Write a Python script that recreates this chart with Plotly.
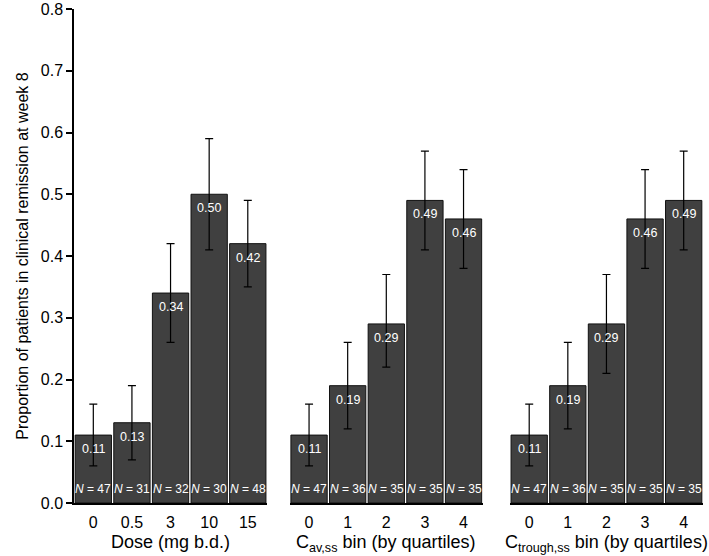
import plotly.graph_objects as go

dose_labels = ["0", "0.5", "3", "10", "15"]
dose_vals = [0.11, 0.13, 0.34, 0.50, 0.42]
dose_lo = [0.06, 0.07, 0.26, 0.41, 0.35]
dose_hi = [0.16, 0.19, 0.42, 0.59, 0.49]
dose_n = [47, 31, 32, 30, 48]

cav_labels = ["0", "1", "2", "3", "4"]
cav_vals = [0.11, 0.19, 0.29, 0.49, 0.46]
cav_lo = [0.06, 0.12, 0.22, 0.41, 0.38]
cav_hi = [0.16, 0.26, 0.37, 0.57, 0.54]
cav_n = [47, 36, 35, 35, 35]

ctr_labels = ["0", "1", "2", "3", "4"]
ctr_vals = [0.11, 0.19, 0.29, 0.46, 0.49]
ctr_lo = [0.06, 0.12, 0.21, 0.38, 0.41]
ctr_hi = [0.16, 0.26, 0.37, 0.54, 0.57]
ctr_n = [47, 36, 35, 35, 35]

panel_titles = ["Dose (mg b.d.)",
                "C<sub>av,ss</sub> bin (by quartiles)",
                "C<sub>trough,ss</sub> bin (by quartiles)"]
y_title = "Proportion of patients in clinical remission at week 8"

FONT = "Liberation Sans, Arial, Helvetica, sans-serif"
BAR = "#404040"

panels = [
    (dose_labels, dose_vals, dose_lo, dose_hi, dose_n),
    (cav_labels, cav_vals, cav_lo, cav_hi, cav_n),
    (ctr_labels, ctr_vals, ctr_lo, ctr_hi, ctr_n),
]
domains = [[0.0, 0.307], [0.343, 0.650], [0.693, 1.0]]

fig = go.Figure()
annotations = []
for i, (labels, vals, lo, hi, ns) in enumerate(panels):
    xa = "x" if i == 0 else f"x{i+1}"
    ya = "y" if i == 0 else f"y{i+1}"
    xs = list(range(len(labels)))
    fig.add_trace(go.Bar(
        x=xs, y=vals, xaxis=xa, yaxis=ya,
        marker=dict(color=BAR, line=dict(color="#111111", width=1)),
        error_y=dict(type="data", symmetric=False,
                     array=[h - v for h, v in zip(hi, vals)],
                     arrayminus=[v - l for v, l in zip(vals, lo)],
                     color="black", thickness=1.2, width=4),
        showlegend=False, hoverinfo="skip",
    ))
    for x, v, n in zip(xs, vals, ns):
        annotations.append(dict(x=x, y=v, xref=xa, yref=ya, text=f"{v:.2f}",
                                showarrow=False, xanchor="center", yanchor="top",
                                yshift=-5,
                                font=dict(family=FONT, size=12.5, color="white")))
        annotations.append(dict(x=x, y=0, xref=xa, yref=ya, text=f"<i>N</i> = {n}",
                                showarrow=False, xanchor="center", yanchor="bottom",
                                yshift=5,
                                font=dict(family=FONT, size=12, color="white")))
    annotations.append(dict(x=sum(domains[i]) / 2, y=0, xref="paper", yref="paper",
                            text=panel_titles[i], showarrow=False,
                            xanchor="center", yanchor="top", yshift=-27,
                            font=dict(family=FONT, size=18, color="black")))

layout = dict(
    width=709, height=556,
    margin=dict(l=74, r=6, t=9, b=53, autoexpand=False),
    plot_bgcolor="white", paper_bgcolor="white",
    bargap=0.06,
    font=dict(family=FONT, color="black"),
    annotations=annotations,
)
for i, (labels, *_rest) in enumerate(panels):
    key = "xaxis" if i == 0 else f"xaxis{i+1}"
    ykey = "yaxis" if i == 0 else f"yaxis{i+1}"
    layout[key] = dict(domain=domains[i], range=[-0.5, len(labels) - 0.5],
                       tickvals=list(range(len(labels))), ticktext=labels,
                       showline=True, linecolor="black", linewidth=1.5,
                       ticks="outside", ticklen=4, tickcolor="rgba(0,0,0,0)",
                       showgrid=False, zeroline=False, automargin=False,
                       tickfont=dict(family=FONT, size=16, color="black"),
                       anchor="y" if i == 0 else f"y{i+1}")
    yd = dict(range=[0, 0.8], showgrid=False, zeroline=False, automargin=False,
              anchor="x" if i == 0 else f"x{i+1}")
    if i == 0:
        yd.update(showline=True, linecolor="black", linewidth=1.5,
                  ticks="outside", ticklen=6, tickwidth=1.5, tickcolor="black",
                  tickvals=[0, 0.1, 0.2, 0.3, 0.4, 0.5, 0.6, 0.7, 0.8],
                  tickformat=".1f",
                  tickfont=dict(family=FONT, size=16, color="black"),
                  title=dict(text=y_title, standoff=8,
                             font=dict(family=FONT, size=16, color="black")))
    else:
        yd.update(showline=False, showticklabels=False, ticks="",
                  matches="y")
    layout[ykey] = yd

fig.update_layout(**layout)
fig.write_html("out.html", config={"displayModeBar": False},
               post_script="document.body.style.margin='0';document.body.style.padding='0';")
